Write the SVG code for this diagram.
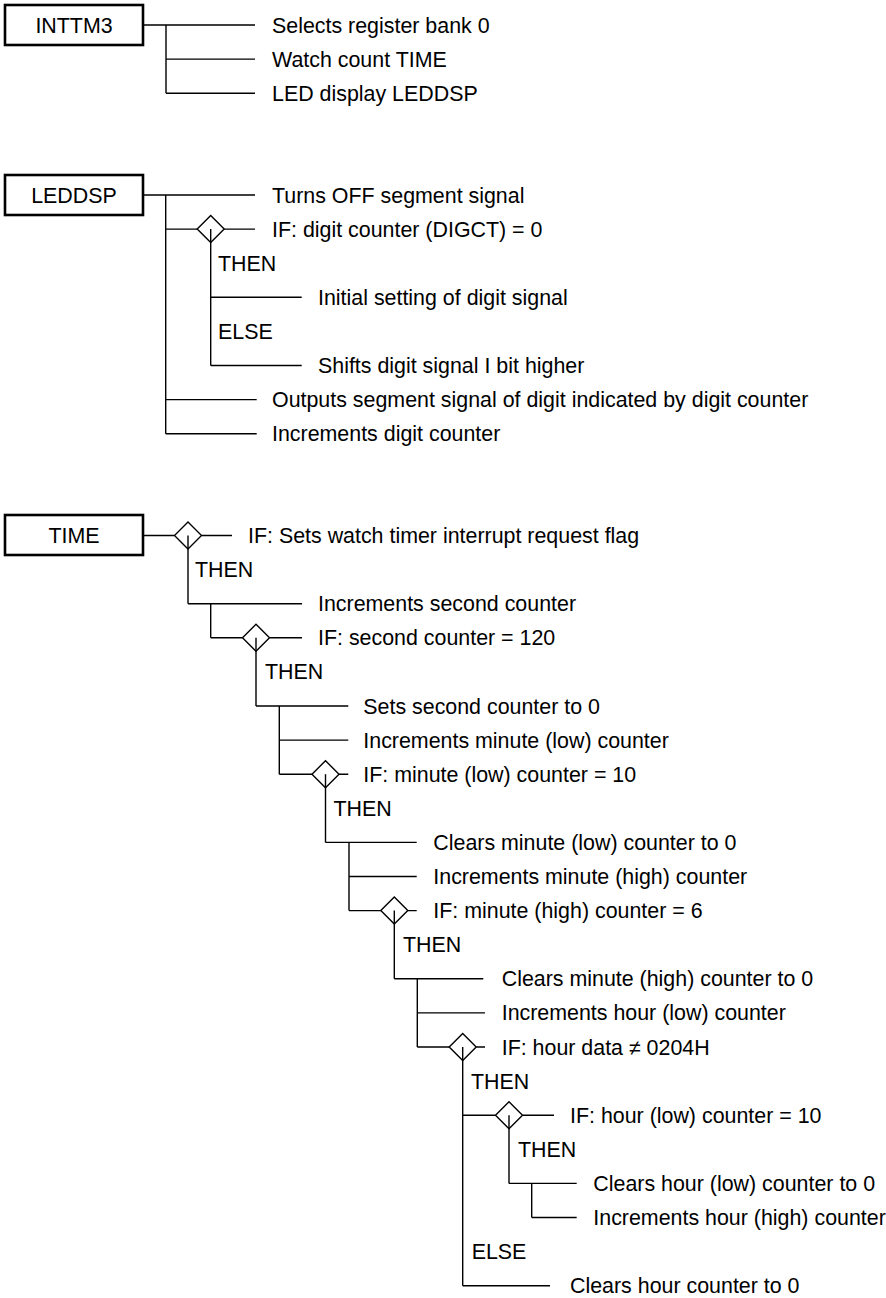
<svg xmlns="http://www.w3.org/2000/svg" width="886" height="1298" viewBox="0 0 886 1298">
<style>
text{font-family:"Liberation Sans",Arial,sans-serif;font-size:21.4px;fill:#000}
.box{fill:#fff;stroke:#000;stroke-width:2.6}
.dia{fill:#fff;stroke:#000;stroke-width:1.4}
.c{fill:none;stroke:#000;stroke-width:1.4}
.bt{text-anchor:middle}
</style>
<rect width="886" height="1298" fill="#fff"/>
<g id="connectors" class="c">
<path d="M143,25 H255 M166,25 V93.2 M166,59.1 H255 M166,93.2 H255"/>
<path d="M143,195 H255 M165.7,195 V433.7 M165.7,229.1 H197.2 M224.2,229.1 H255 M210.7,229.1 V365.5 M210.7,297.3 H301.7 M210.7,365.5 H301.7 M165.7,399.6 H256.7 M165.7,433.7 H256.7"/>
<path d="M143,535.5 H174.5 M201.5,535.5 H232 M188,535.5 V603.7 M188,603.7 H302 M210.7,603.7 V637.8 M210.7,637.8 H242.5 M269.5,637.8 H302 M256,637.8 V706 M256,706 H348.3 M279.3,706 V774.2 M279.3,740.1 H348.3 M279.3,774.2 H312 M339,774.2 H348.3 M325.5,774.2 V842.4 M325.5,842.4 H416.7 M349,842.4 V910.6 M349,876.5 H416.7 M349,910.6 H380.8 M407.8,910.6 H416.7 M394.3,910.6 V978.8 M394.3,978.8 H483.3 M417.3,978.8 V1047 M417.3,1012.9 H485 M417.3,1047 H449.2 M476.2,1047 H485 M462.7,1047 V1285.7 M462.7,1115.2 H495.5 M522.5,1115.2 H554 M509,1115.2 V1183.4 M509,1183.4 H576.7 M531.7,1183.4 V1217.5 M531.7,1217.5 H576.7 M462.7,1285.7 H550"/>
</g>
<g id="INTTM3">
<rect class="box" x="5" y="5" width="138" height="40"/>
<text class="bt" x="74" y="32.5">INTTM3</text>
</g>
<g id="inttm3-items">
<text x="272" y="32.5">Selects register bank 0</text>
<text x="272" y="66.6">Watch count TIME</text>
<text x="272" y="100.7">LED display LEDDSP</text>
</g>
<g id="LEDDSP">
<rect class="box" x="5" y="175" width="138" height="40"/>
<text class="bt" x="74" y="202.5">LEDDSP</text>
</g>
<g id="leddsp-items">
<text x="272" y="202.5">Turns OFF segment signal</text>
<polygon class="dia" points="197.2,229.1 210.7,215.6 224.2,229.1 210.7,242.6"/>
<line class="c" x1="210.7" y1="229.1" x2="210.7" y2="242.6"/>
<text x="272" y="236.6">IF: digit counter (DIGCT) = 0</text>
<text x="218" y="270.7">THEN</text>
<text x="318" y="304.8">Initial setting of digit signal</text>
<text x="218" y="338.9">ELSE</text>
<text x="318" y="373">Shifts digit signal I bit higher</text>
<text x="272" y="407.1">Outputs segment signal of digit indicated by digit counter</text>
<text x="272" y="441.2">Increments digit counter</text>
</g>
<g id="TIME">
<rect class="box" x="5" y="515" width="138" height="40"/>
<text class="bt" x="74" y="543">TIME</text>
</g>
<g id="time-items">
<polygon class="dia" points="174.5,535.5 188,522 201.5,535.5 188,549"/>
<line class="c" x1="188" y1="535.5" x2="188" y2="549"/>
<text x="248" y="543">IF: Sets watch timer interrupt request flag</text>
<text x="195" y="577.1">THEN</text>
<text x="318" y="611.2">Increments second counter</text>
<polygon class="dia" points="242.5,637.8 256,624.3 269.5,637.8 256,651.3"/>
<line class="c" x1="256" y1="637.8" x2="256" y2="651.3"/>
<text x="318" y="645.3">IF: second counter = 120</text>
<text x="265" y="679.4">THEN</text>
<text x="363.3" y="713.5">Sets second counter to 0</text>
<text x="363.3" y="747.6">Increments minute (low) counter</text>
<polygon class="dia" points="312,774.2 325.5,760.7 339,774.2 325.5,787.7"/>
<line class="c" x1="325.5" y1="774.2" x2="325.5" y2="787.7"/>
<text x="363.3" y="781.7">IF: minute (low) counter = 10</text>
<text x="333.5" y="815.8">THEN</text>
<text x="433.3" y="849.9">Clears minute (low) counter to 0</text>
<text x="433.3" y="884">Increments minute (high) counter</text>
<polygon class="dia" points="380.8,910.6 394.3,897.1 407.8,910.6 394.3,924.1"/>
<line class="c" x1="394.3" y1="910.6" x2="394.3" y2="924.1"/>
<text x="433.3" y="918.1">IF: minute (high) counter = 6</text>
<text x="403" y="952.2">THEN</text>
<text x="501.7" y="986.3">Clears minute (high) counter to 0</text>
<text x="501.7" y="1020.4">Increments hour (low) counter</text>
<polygon class="dia" points="449.2,1047 462.7,1033.5 476.2,1047 462.7,1060.5"/>
<line class="c" x1="462.7" y1="1047" x2="462.7" y2="1060.5"/>
<text x="501.7" y="1054.5">IF: hour data ≠ 0204H</text>
<text x="471" y="1088.6">THEN</text>
<polygon class="dia" points="495.5,1115.2 509,1101.7 522.5,1115.2 509,1128.7"/>
<line class="c" x1="509" y1="1115.2" x2="509" y2="1128.7"/>
<text x="570" y="1122.7">IF: hour (low) counter = 10</text>
<text x="518" y="1156.8">THEN</text>
<text x="593.3" y="1190.9">Clears hour (low) counter to 0</text>
<text x="593.3" y="1225">Increments hour (high) counter</text>
<text x="471.7" y="1259.1">ELSE</text>
<text x="570" y="1293.2">Clears hour counter to 0</text>
</g>
</svg>
